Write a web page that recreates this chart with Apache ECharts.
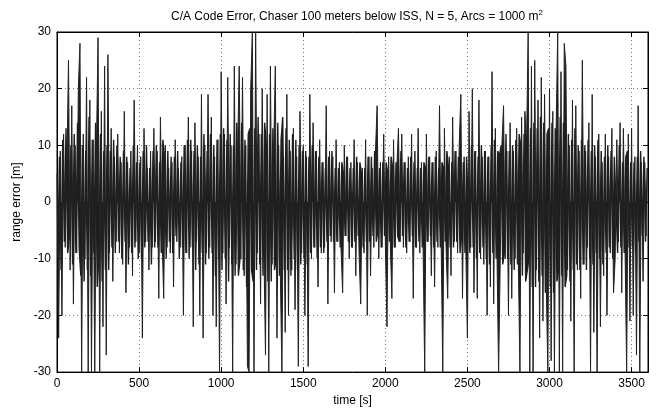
<!DOCTYPE html>
<html>
<head>
<meta charset="utf-8">
<script src="https://cdn.jsdelivr.net/npm/echarts@6/dist/echarts.min.js"></script>
<style>html,body{margin:0;padding:0;background:#fff}#c{width:656px;height:412px}</style>
</head>
<body>
<div id="c"></div>
<script>
// Chart content
var titleText = 'C/A Code Error, Chaser 100 meters below ISS, N = 5, Arcs = 1000 m';
var xName = 'time [s]';
var yName = 'range error [m]';
var xTicks = [0, 500, 1000, 1500, 2000, 2500, 3000, 3500];
var yTicks = [-30, -20, -10, 0, 10, 20, 30];
var sampleStep = 10; // seconds between the readings below

// range error [m]: extreme excursions, at t = 0, 10, 20 ... 3590 s
var rangeErrorPeaks = [
  5, -24, 9, -20, 12, -8, 6, 25, -12, 17,
  -18, 10, -9, 20, 28, -30, 12, -10, 22, -30,
  18, -30, 11, -30, 9, 29, -30, 16, -22, 24,
  -27, 26, -9, 13, -14, 8, -7, 12, -9, 7,
  -11, 16, -16, 7, -8, 9, -13, 18, -7, 10,
  -9, 8, -24, 13, -7, 6, -12, 9, -8, 13,
  -7, 9, -17, 15, -6, -17, 10, -8, 6, -9,
  7, -15, 11, -7, 6, -8, 8, -20, 10, -9,
  15, -8, 9, -22, 14, -7, 8, -20, 19, -24,
  10, -9, 19, -8, 15, -20, 8, -22, 11, -30,
  23, -9, 12, -18, 22, -8, 10, -30, 24, -11,
  9, 24, -10, 22, -13, 10, -29, -30, 20, 30,
  -30, 30, -9, 12, -18, 20, -8, -27, 19, -30,
  24, -11, 9, 24, -24, 10, -12, -30, 8, -23,
  19, -20, 9, -12, 13, -19, 8, -29, 16, -9,
  10, -20, 8, -29, 19, -10, 14, -8, 9, -15,
  11, -9, 7, -8, 17, -18, 9, -7, 8, -16,
  11, -7, 7, -8, -16, 10, -6, 8, -10, 7,
  -8, 11, -13, 7, -9, -18, 6, -9, 11, -20,
  8, -13, 6, -8, 9, 17, -10, 7, -8, 12,
  -7, -22, 8, -7, -17, 11, -8, 6, 13, -7,
  12, -8, 7, -9, 8, -7, 12, -17, 9, -8,
  13, -9, 7, -8, -30, 12, -7, 8, -13, 7,
  -15, 9, -8, 17, -7, -30, 13, -8, -17, 8,
  -13, 15, -7, 9, -9, 10, 19, -17, 8, -8,
  -24, 16, -8, 20, -16, 9, -17, 18, -10, 8,
  -11, 9, -20, 8, -15, 23, -18, 13, -9, -30,
  -30, 10, 17, -10, 9, -20, 14, -17, 9, -10,
  13, -10, -30, 15, -9, 16, 10, 30, -30, 24,
  -30, 25, -12, 18, -24, 22, -21, 19, -14, -30,
  20, -28, 16, -30, 12, 30, -30, 23, -30, 28,
  24, -12, 10, -21, 18, -30, 17, -12, 9, -17,
  25, -11, 9, -8, 14, -30, 19, -23, 8, -30,
  12, -22, 7, -13, 12, -20, 8, -9, 13, -16,
  -10, 11, -7, 14, -16, 13, -8, -30, 12, -21,
  13, -20, 8, -27, 17, -30, 7, -14, 7, -6
];

// range error [m]: the dense in-between samples, at t = 5, 15, 25 ... 3595 s
var rangeErrorMid = [
  -10, 8, -12, 11, -7, 13, -9, -6, 10, -11,
  12, -9, 14, -8, -13, 10, -14, 9, -12, 15,
  -13, 11, -9, 14, -15, -10, 12, -14, 9, -12,
  10, -12, 9, -8, 11, -9, 10, -7, 8, -10,
  9, -7, 8, -11, 6, -9, 10, -8, 7, -10,
  7, -10, 9, -8, 10, -7, 6, -11, 9, -8,
  10, -8, 7, -9, 11, 8, -10, 9, -7, 8,
  -9, 8, -6, 9, -10, 7, -8, 10, -9, 11,
  -10, 11, -8, 9, -12, 10, -11, 8, -9, 12,
  -11, 9, -10, 12, -9, 10, -13, 11, -10, 12,
  -12, 13, -10, 11, -14, 12, -11, 10, -13, 14,
  -13, -10, 14, -12, 11, -15, 12, 13, -12, -14,
  13, -12, 15, -11, 12, -13, 14, 10, -14, 12,
  -14, 13, -12, -10, 14, -13, 11, 15, -12, 13,
  -12, 11, -13, 12, -10, 11, -12, 10, -11, 9,
  -10, 9, -11, 8, -9, 10, -8, 9, -10, 8,
  -8, 7, -9, 6, -7, 8, -6, 9, -7, 6,
  -7, 6, -8, 7, 5, -6, 8, -7, 6, -8,
  6, -7, 8, -6, 7, 5, -8, 6, -7, 8,
  -7, 8, -6, 9, -7, -5, 6, -8, 7, -6,
  7, 5, -7, 8, 6, -8, 7, -6, -7, 9,
  -6, 7, -8, 6, -7, 8, -6, 7, -8, 6,
  -7, 6, -8, 7, 6, -7, 8, -6, 7, -8,
  8, -7, 6, -8, 7, 6, -7, 9, 6, -8,
  7, -8, 9, -7, 8, -9, -6, 7, -9, 8,
  8, -9, 10, -8, 9, -10, 8, -9, 10, -8,
  9, -10, 8, -11, 10, -9, 11, -10, 9, 8,
  10, -11, -9, 12, -10, 9, -11, 10, -12, 11,
  -11, 12, 10, -13, 12, -14, -12, -10, 13, -15,
  14, -15, 13, -14, 15, -13, 14, -16, 12, 13,
  -15, 14, -16, 13, -14, -12, 15, -13, 14, -15,
  -13, 12, -14, 11, -12, 13, -11, 10, -12, 11,
  -11, 10, -12, 11, -10, 9, -11, 10, -9, 11,
  -10, 9, -11, 8, -9, 10, -8, 9, -10, 8,
  8, -9, 10, -8, 7, -9, 8, 9, -8, 7,
  -8, 7, -9, 8, -7, 9, -6, 8, -7, 6
];

// Tables for the library
var peakData = rangeErrorPeaks.map(function (v, i) { return [i * sampleStep, v]; });
var midData = rangeErrorMid.map(function (v, i) { return [i * sampleStep + sampleStep / 2, v]; });

var font = 'Liberation Sans, Arial, Helvetica, sans-serif';
var ink = '#1e1e1e';
var chart = echarts.init(document.getElementById('c'), null, {renderer: 'canvas'});

var xCommon = {
  type: 'value', min: 0, max: 3600, interval: 500,
  axisLine: {show: true, onZero: false, lineStyle: {color: '#000', width: 1}},
  axisTick: {show: true, inside: true, length: 5, lineStyle: {color: '#000'}}
};
var yCommon = {
  type: 'value', min: -30, max: 30, interval: 10,
  axisLine: {show: true, onZero: false, lineStyle: {color: '#000', width: 1}},
  axisTick: {show: true, inside: true, length: 5, lineStyle: {color: '#000'}}
};

// each trace is drawn as a line with its area to zero filled, which gives the
// solid, ragged core that the dense original trace shows
function trace(data, width, color, z) {
  return {
    type: 'line', xAxisIndex: 0, yAxisIndex: 0, data: data,
    showSymbol: false, symbol: 'none', sampling: null, clip: true, silent: true,
    lineStyle: {color: color, width: width},
    areaStyle: {color: ink, opacity: 1, origin: 0},
    emphasis: {disabled: true}, z: z
  };
}

chart.setOption({
  animation: false,
  backgroundColor: '#fff',
  title: {
    text: titleText + '{sup|2}',
    left: 352, top: 4, textAlign: 'center',
    textStyle: {
      fontFamily: font, fontSize: 12, fontWeight: 'normal', color: '#000',
      rich: {sup: {fontFamily: font, fontSize: 8, color: '#000', padding: [0, 0, 8, 0]}}
    }
  },
  grid: {left: 57, right: 8, top: 32, bottom: 35, show: true, borderColor: '#000', borderWidth: 1, backgroundColor: 'transparent'},
  xAxis: [
    Object.assign({}, xCommon, {
      position: 'bottom',
      name: xName, nameLocation: 'middle', nameGap: 22,
      nameTextStyle: {fontFamily: font, fontSize: 12, color: '#000'},
      axisLabel: {show: true, color: '#000', fontFamily: font, fontSize: 12, margin: 6,
        formatter: function (v) { return xTicks.indexOf(v) >= 0 ? String(v) : ''; }},
      splitLine: {show: true, lineStyle: {color: '#777', type: [1, 3], width: 1}}
    }),
    Object.assign({}, xCommon, {
      position: 'top', axisLabel: {show: false}, splitLine: {show: false}
    })
  ],
  yAxis: [
    Object.assign({}, yCommon, {
      position: 'left',
      name: yName, nameLocation: 'middle', nameGap: 30, nameRotate: 90,
      nameTextStyle: {fontFamily: font, fontSize: 12, color: '#000'},
      axisLabel: {show: true, color: '#000', fontFamily: font, fontSize: 12, margin: 6,
        formatter: function (v) { return yTicks.indexOf(v) >= 0 ? String(v) : ''; }},
      splitLine: {show: true, lineStyle: {color: '#777', type: [1, 3], width: 1}}
    }),
    Object.assign({}, yCommon, {
      position: 'right', axisLabel: {show: false}, splitLine: {show: false}
    })
  ],
  series: [
    trace(midData, 1.4, ink, 3),
    trace(peakData, 1, '#222', 4)
  ]
});
</script>
</body>
</html>
